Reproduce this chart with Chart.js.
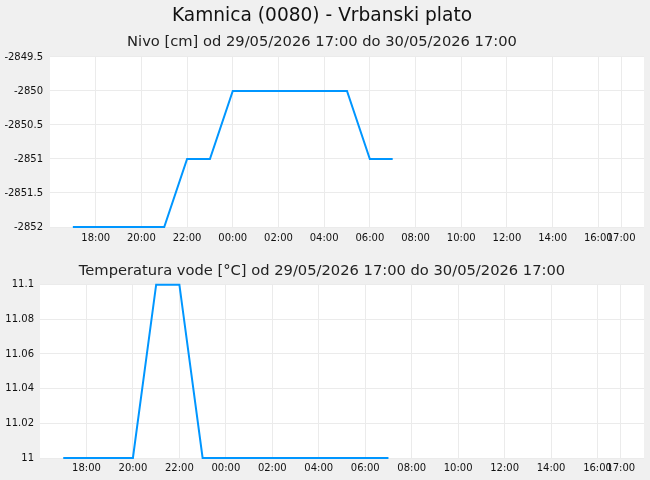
<!DOCTYPE html>
<html>
<head>
<meta charset="utf-8">
<script src="https://cdn.jsdelivr.net/npm/chart.js@4/dist/chart.umd.min.js"></script>
<style>
  html, body { margin: 0; padding: 0; background: #f0f0f0; }
  .wrap { position: relative; width: 650px; }
  #w1 { height: 250px; }
  #w2 { height: 230px; }
</style>
</head>
<body>
<div class="wrap" id="w1"><canvas id="c1"></canvas></div>
<div class="wrap" id="w2"><canvas id="c2"></canvas></div>
<script>
// Hours counted from 29/05/2026 00:00
const timesHours = [17, 18, 19, 20, 21, 22, 23, 24, 25, 26, 27, 28, 29, 30, 31];
const nivoValues = [-2852, -2852, -2852, -2852, -2852, -2851, -2851, -2850, -2850, -2850, -2850, -2850, -2850, -2851, -2851];
const tempValues = [11, 11, 11, 11, 11.1, 11.1, 11, 11, 11, 11, 11, 11, 11, 11, 11];
const xTickHours = [18, 20, 22, 24, 26, 28, 30, 32, 34, 36, 38, 40, 41];
const xMin = 16, xMax = 42;
const mainTitle = 'Kamnica (0080) - Vrbanski plato';
const nivoTitle = 'Nivo [cm] od 29/05/2026 17:00 do 30/05/2026 17:00';
const tempTitle = 'Temperatura vode [°C] od 29/05/2026 17:00 do 30/05/2026 17:00';

const FONT = 'DejaVu Sans';
const LINE = 'rgb(0,150,255)';
const GRID = '#ebebeb';

const whiteArea = {
  id: 'whiteArea',
  beforeDraw(chart) {
    const a = chart.chartArea, ctx = chart.ctx;
    ctx.save();
    ctx.fillStyle = '#ffffff';
    ctx.fillRect(a.left, a.top, a.right - a.left, a.bottom - a.top);
    ctx.restore();
  }
};

function hourLabel(v) {
  const h = ((v % 24) + 24) % 24;
  return (h < 10 ? '0' : '') + h + ':00';
}

function makeChart(id, values, yOpts, yWidth, xHeight, titles, xPad) {
  const pts = timesHours.map((t, i) => ({ x: t, y: values[i] }));
  return new Chart(document.getElementById(id), {
    type: 'line',
    data: { datasets: [{ data: pts, borderColor: LINE, borderWidth: 2, pointRadius: 0, tension: 0, fill: false, clip: 2 }] },
    plugins: [whiteArea],
    options: {
      responsive: true,
      maintainAspectRatio: false,
      animation: false,
      layout: { padding: { left: 0, right: 6, top: 0, bottom: 0 } },
      plugins: {
        legend: { display: false },
        tooltip: { enabled: false },
        title: titles.title,
        subtitle: titles.subtitle
      },
      scales: {
        x: {
          type: 'linear',
          min: xMin, max: xMax,
          afterBuildTicks(s) { s.ticks = xTickHours.map(v => ({ value: v })); },
          afterFit(s) { s.height = xHeight; },
          grid: { color: GRID, drawTicks: false },
          border: { display: false },
          ticks: { autoSkip: false, maxRotation: 0, padding: xPad, color: '#111', font: { family: FONT, size: 10 }, callback: v => hourLabel(v) }
        },
        y: Object.assign({
          afterFit(s) { s.width = yWidth; },
          grid: { color: GRID, drawTicks: false },
          border: { display: false }
        }, yOpts)
      }
    }
  });
}

Chart.defaults.font.family = FONT;

makeChart('c1', nivoValues, {
  min: -2852, max: -2849.5,
  ticks: { stepSize: 0.5, padding: 7, color: '#111', font: { family: FONT, size: 10 }, callback: v => String(parseFloat(Number(v).toFixed(2))) }
}, 50, 23, {
  title: { display: true, text: mainTitle, color: '#111', font: { family: FONT, size: 18.6, weight: 'normal' }, padding: { top: 5, bottom: 5 } },
  subtitle: { display: true, text: nivoTitle, color: '#222', font: { family: FONT, size: 14.7, weight: 'normal' }, padding: { top: 1, bottom: 6 } }
}, 5);

makeChart('c2', tempValues, {
  min: 11, max: 11.1,
  ticks: { stepSize: 0.02, padding: 6, color: '#111', font: { family: FONT, size: 10 }, callback: v => String(parseFloat(Number(v).toFixed(2))) }
}, 40, 22, {
  title: { display: true, text: tempTitle, color: '#222', font: { family: FONT, size: 14.7, weight: 'normal' }, padding: { top: 12, bottom: 5 } },
  subtitle: { display: false }
}, 4);
</script>
</body>
</html>
